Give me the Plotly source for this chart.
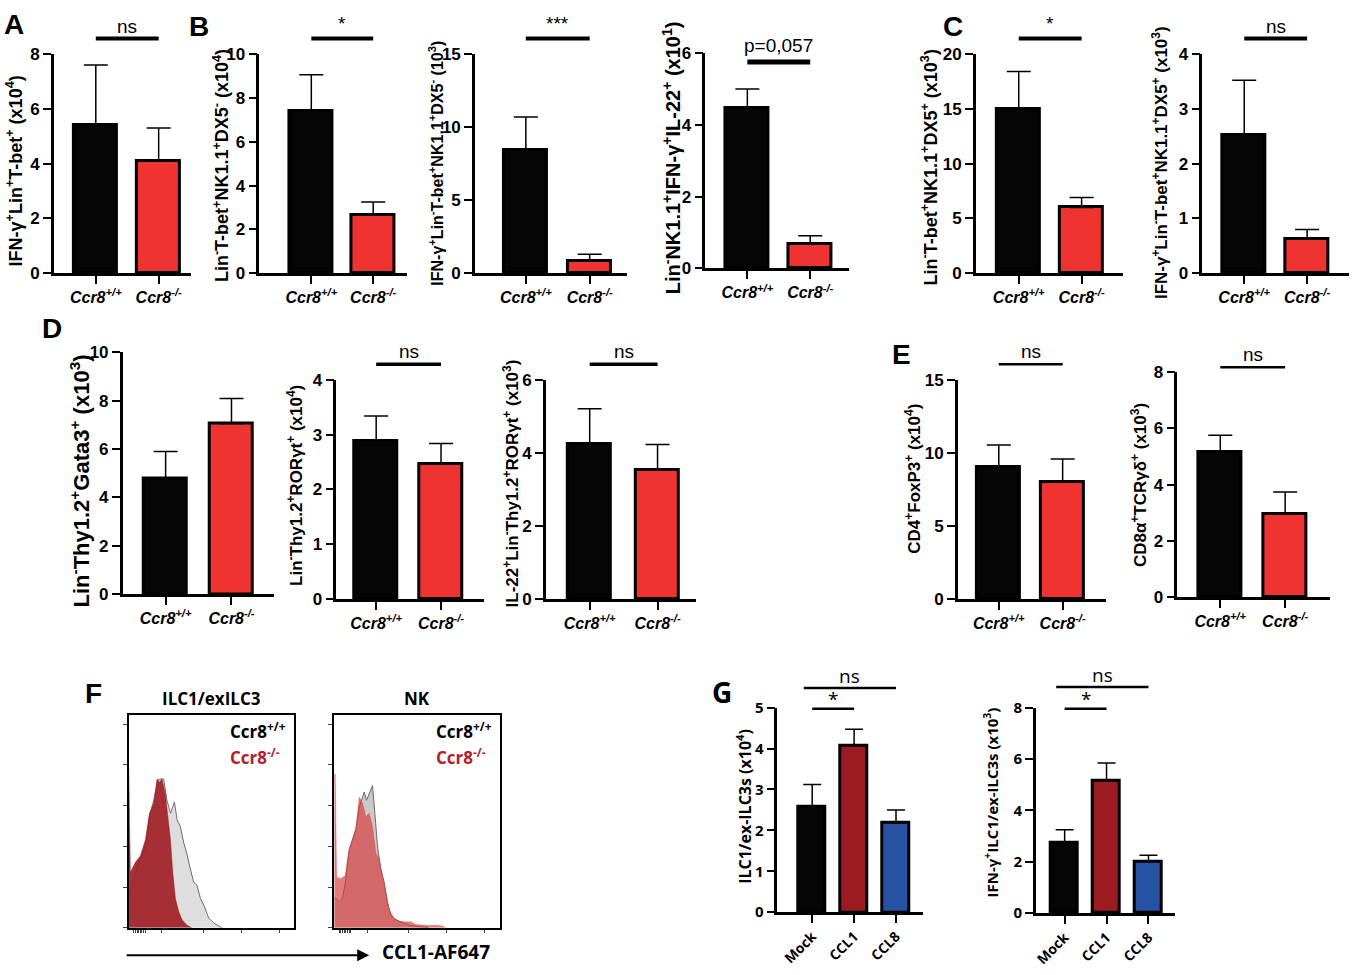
import plotly.graph_objects as go

W, H = 1353, 975

# ---------------- data ----------------
genotypes = ["Ccr8<sup>+/+</sup>", "Ccr8<sup>-/-</sup>"]
treatments = ["Mock", "CCL1", "CCL8"]

# panel A
a_mean = [5.4, 4.1]
a_sem = [2.2, 1.2]
# panel B
b1_mean = [7.4, 2.65]
b1_sem = [1.65, 0.6]
b2_mean = [8.45, 0.85]
b2_sem = [2.25, 0.45]
b3_mean = [4.47, 0.68]
b3_sem = [0.53, 0.23]
# panel C
c1_mean = [15.0, 6.0]
c1_sem = [3.4, 0.9]
c2_mean = [2.52, 0.62]
c2_sem = [1.0, 0.18]
# panel D
d1_mean = [4.8, 7.06]
d1_sem = [1.1, 1.04]
d2_mean = [2.88, 2.47]
d2_sem = [0.46, 0.37]
d3_mean = [4.24, 3.53]
d3_sem = [0.97, 0.70]
# panel E
e1_mean = [9.08, 8.01]
e1_sem = [1.46, 1.57]
e2_mean = [5.16, 2.96]
e2_sem = [0.59, 0.78]
# panel G
g1_mean = [2.58, 4.08, 2.18]
g1_sem = [0.54, 0.39, 0.32]
g2_mean = [2.76, 5.16, 2.01]
g2_sem = [0.49, 0.69, 0.24]

# panel F histograms (channel in % of axis, count in % of max)
f1_wt_x = [0, 1.0, 4.0, 7.0, 10.1, 12.5, 15.1, 17.5, 19.1, 21.1, 23.1, 25.2, 27.6, 29.2, 31.2,
           33.2, 35.2, 37.2, 39.2, 41.2, 43.3, 45.3, 48.3, 51.3, 54.3, 56.3]
f1_wt_y = [17, 16.9, 26.1, 32.2, 38.3, 52.1, 59.8, 69.0, 69.8, 69.8, 59.8, 53.7, 59.0, 50.6, 47.5,
           39.9, 34.5, 27.6, 21.5, 19.9, 13.8, 10.7, 4.6, 2.3, 0.8, 0]
f1_ko_x = [0, 0.4, 1.0, 4.0, 7.0, 10.1, 12.5, 15.1, 17.1, 18.5, 20.1, 22.1, 23.7, 25.2, 26.6,
           28.2, 30.2, 32.2, 35.2, 38.2]
f1_ko_y = [75.2, 40, 26.1, 30.7, 33.7, 41.4, 53.7, 58.3, 69.8, 68.3, 69.8, 62.9, 52.1, 41.4, 26.1,
           13.8, 7.7, 3.8, 1.2, 0]
f2_wt_x = [0, 1.0, 3.0, 5.0, 7.0, 9.0, 11.0, 13.1, 15.1, 17.1, 18.1, 19.5, 21.1, 23.1, 24.5, 26.1,
           28.1, 30.1, 32.1, 34.1, 37.1, 41.2, 45.2, 49.2, 53.2, 57.2]
f2_wt_y = [14, 13.8, 12.3, 13.8, 23.0, 36.8, 41.4, 46.0, 56.7, 61.3, 63.7, 59.8, 62.9, 66.7, 53.7, 38.3,
           27.6, 21.5, 12.3, 6.1, 3.8, 2.3, 1.2, 0.8, 0.3, 0]
f2_ko_x = [0, 0.6, 1.4, 4.0, 6.6, 8.6, 11.0, 13.1, 15.1, 17.1, 19.1, 21.1, 23.1, 25.1, 27.1, 29.1,
           31.1, 33.1, 36.1, 39.2, 43.2, 46.2, 49.2, 53.2, 57.2, 61.2, 65.3, 67.3]
f2_ko_y = [72.1, 72.1, 23.8, 23.0, 24.5, 35.3, 41.4, 47.5, 61.3, 58.3, 52.1, 53.7, 47.5, 35.3, 32.2, 24.5,
           16.9, 8.4, 4.6, 3.1, 2.8, 2.8, 1.5, 1.2, 1.1, 1.2, 0.8, 0]

BLACK = "#050505"
RED = "#ee3330"
DRED = "#9c1b21"
BLUE = "#2552a3"
ARIAL = "Liberation Sans, Arial, sans-serif"
GOTH = "Open Sans, sans-serif"


def px(x):
    return x / W


def py(y):
    return 1 - y / H


def b(t):
    return "<b>" + t + "</b>"


fig = go.Figure()
annotations = []
shapes = []
layout = {}


def bar_panel(i, means, sems, labels, colors, left, c0, step, right, top, bottom, ymax, dtick,
              title, tx, ty, tsize, bar_px=43, font=ARIAL, axis_w=2.5, tick_size=17,
              cat_size=16, cat_angle=0, cat_italic=True, cap=12):
    sfx = "" if i == 1 else str(i)
    n = len(means)
    fig.add_trace(go.Bar(
        x=list(range(n)), y=means, width=bar_px / step,
        marker=dict(color=colors, line=dict(color="black", width=3)),
        error_y=dict(type="data", symmetric=False, array=sems, arrayminus=[0] * n,
                     color="black", thickness=1.5, width=cap),
        xaxis="x" + sfx, yaxis="y" + sfx, showlegend=False,
    ))
    if cat_italic:
        cats = [b("<i>" + c + "</i>") for c in labels]
    else:
        cats = [b(c) for c in labels]
    yticks = []
    v = 0
    while v <= ymax + 1e-9:
        yticks.append(v)
        v += dtick
    layout["xaxis" + sfx] = dict(
        domain=[px(left), px(right)], anchor="y" + sfx,
        range=[(left - c0) / step, (right - c0) / step],
        tickvals=list(range(n)), ticktext=cats, tickangle=cat_angle,
        tickfont=dict(family=font, size=cat_size, color="black"),
        showline=True, linecolor="black", linewidth=axis_w,
        ticks="outside", ticklen=8, tickwidth=2, tickcolor="black",
        showgrid=False, zeroline=False, fixedrange=True,
    )
    layout["yaxis" + sfx] = dict(
        domain=[py(bottom), py(top)], anchor="x" + sfx,
        range=[0, ymax], tickvals=yticks, ticktext=[b(str(t)) for t in yticks],
        tickfont=dict(family=font, size=tick_size, color="black"),
        showline=True, linecolor="black", linewidth=axis_w,
        ticks="outside", ticklen=8, tickwidth=2, tickcolor="black",
        showgrid=False, zeroline=False, fixedrange=True,
    )
    annotations.append(dict(
        text=b(title), x=px(tx), y=py(ty), xref="paper", yref="paper", textangle=-90,
        showarrow=False, xanchor="center", yanchor="middle",
        font=dict(family=font, size=tsize, color="black"),
    ))


def sig(i, x0, x1, y, text, ty, lw=4, size=19, font=ARIAL):
    sfx = "" if i == 1 else str(i)
    shapes.append(dict(type="line", xref="x" + sfx, yref="paper", x0=x0, x1=x1,
                       y0=py(y), y1=py(y), line=dict(color="black", width=lw)))
    annotations.append(dict(text=text, xref="x" + sfx, yref="paper", x=(x0 + x1) / 2, y=py(ty),
                            showarrow=False, xanchor="center", yanchor="middle",
                            font=dict(family=font, size=size, color="black")))


def letter(t, x, y, font=ARIAL, size=28):
    annotations.append(dict(text=b(t), x=px(x), y=py(y), xref="paper", yref="paper",
                            showarrow=False, xanchor="center", yanchor="middle",
                            font=dict(family=font, size=size, color="black")))


two = [BLACK, RED]

# ---- row 1 ----
bar_panel(1, a_mean, a_sem, genotypes, two, 51, 93, 63, 188, 44, 268, 8, 2,
          "IFN-γ<sup>+</sup>Lin<sup>+</sup>T-bet<sup>+</sup> (x10<sup>4</sup>)", 12, 163, 18)
sig(1, 0, 1, 28, "ns", 16)
bar_panel(2, b1_mean, b1_sem, genotypes, two, 257, 309, 62, 405, 44, 268, 10, 2,
          "Lin<sup>-</sup>T-bet<sup>+</sup>NK1.1<sup>+</sup>DX5<sup>-</sup> (x10<sup>4</sup>)", 219, 158, 18)
sig(2, 0, 1, 28, "*", 13)
bar_panel(3, b2_mean, b2_sem, genotypes, two, 473, 524, 64, 625, 44, 268, 15, 5,
          "IFN-γ<sup>+</sup>Lin<sup>-</sup>T-bet<sup>+</sup>NK1.1<sup>+</sup>DX5<sup>-</sup> (10<sup>3</sup>)",
          434, 156, 16)
sig(3, 0, 1, 28, "***", 13)
bar_panel(4, b3_mean, b3_sem, genotypes, two, 704, 746, 63, 848, 43, 263, 6, 2,
          "Lin<sup>-</sup>NK1.1<sup>+</sup>IFN-γ<sup>+</sup>IL-22<sup>+</sup> (x10<sup>1</sup>)", 670, 150, 20)
sig(4, 0, 1, 52, "p=0,057", 35, lw=5)
bar_panel(5, c1_mean, c1_sem, genotypes, two, 975, 1018, 63, 1122, 44, 268, 20, 5,
          "Lin<sup>-</sup>T-bet<sup>+</sup>NK1.1<sup>+</sup>DX5<sup>+</sup> (x10<sup>3</sup>)", 929, 160, 18)
sig(5, 0, 1, 28, "*", 13)
bar_panel(6, c2_mean, c2_sem, genotypes, two, 1202, 1244, 63, 1349, 44, 268, 4, 1,
          "IFN-γ<sup>+</sup>Lin<sup>-</sup>T-bet<sup>+</sup>NK1.1<sup>+</sup>DX5<sup>+</sup> (x10<sup>3</sup>)",
          1159, 155, 17)
sig(6, 0, 1, 28, "ns", 16)

# ---- row 2 ----
bar_panel(7, d1_mean, d1_sem, genotypes, two, 120, 163, 66, 272, 349, 596, 10, 2,
          "Lin<sup>-</sup>Thy1.2<sup>+</sup>Gata3<sup>+</sup> (x10<sup>3</sup>)", 77, 480, 22)
bar_panel(8, d2_mean, d2_sem, genotypes, two, 334, 374, 65, 482, 377, 601, 4, 1,
          "Lin<sup>-</sup>Thy1.2<sup>+</sup>RORγt<sup>+</sup> (x10<sup>4</sup>)", 292, 485, 17)
sig(8, 0, 1, 361, "ns", 348, lw=3.5)
bar_panel(9, d3_mean, d3_sem, genotypes, two, 544, 588, 68, 695, 377, 601, 6, 2,
          "IL-22<sup>+</sup>Lin<sup>-</sup>Thy1.2<sup>+</sup>RORγt<sup>+</sup> (x10<sup>3</sup>)", 509, 483, 17)
sig(9, 0, 1, 361, "ns", 348, lw=3.5)
bar_panel(10, e1_mean, e1_sem, genotypes, two, 957, 998, 64, 1105, 377, 601, 15, 5,
          "CD4<sup>+</sup>FoxP3<sup>+</sup> (x10<sup>4</sup>)", 912, 478, 17)
sig(10, 0, 1, 361, "ns", 348, lw=2.5)
bar_panel(11, e2_mean, e2_sem, genotypes, two, 1177, 1220, 65, 1330, 369, 599, 8, 2,
          "CD8α<sup>+</sup>TCRγδ<sup>+</sup> (x10<sup>3</sup>)", 1138, 484, 17)
sig(11, 0, 1, 364, "ns", 351, lw=2.5)

# ---- row 3, panel G ----
three = [BLACK, DRED, BLUE]
bar_panel(12, g1_mean, g1_sem, treatments, three, 776, 811, 42, 922, 712, 921, 5, 1,
          "ILC1/ex-ILC3s (x10<sup>4</sup>)", 743, 813, 16, bar_px=27, font=GOTH, tick_size=15,
          cat_size=14, cat_angle=-45, cat_italic=False, cap=9)
sig(12, 0, 1, 713, "*", 703, lw=2.5, font=GOTH)
sig(12, -0.2, 2, 692, "ns", 680, lw=2.5, font=GOTH)
bar_panel(13, g2_mean, g2_sem, treatments, three, 1035, 1064, 42, 1175, 712, 922, 8, 2,
          "IFN-γ<sup>+</sup>ILC1/ex-ILC3s (x10<sup>3</sup>)", 990, 809, 15, bar_px=27, font=GOTH,
          tick_size=15, cat_size=14, cat_angle=-45, cat_italic=False, cap=9)
sig(13, 0, 1, 713, "*", 703, lw=2.5, font=GOTH)
sig(13, -0.2, 2, 691, "ns", 679, lw=2.5, font=GOTH)

# ---- row 3, panel F histograms ----
hists = [
    (14, f1_wt_x, f1_wt_y, f1_ko_x, f1_ko_y, 126, 292, "#dedede", "#6e6e6e", "rgba(160,32,38,0.92)",
     "ILC1/exILC3"),
    (15, f2_wt_x, f2_wt_y, f2_ko_x, f2_ko_y, 332, 498, "#c9c9c9", "#6a6a6a", "rgba(215,55,55,0.66)",
     "NK"),
]
for i, wx, wy, kx, ky, left, right, wfill, wline, kfill, name in hists:
    sfx = str(i)
    fig.add_trace(go.Scatter(x=wx, y=wy, mode="lines", fill="tozeroy", fillcolor=wfill,
                             line=dict(color=wline, width=1), xaxis="x" + sfx, yaxis="y" + sfx,
                             showlegend=False))
    fig.add_trace(go.Scatter(x=kx, y=ky, mode="lines", fill="tozeroy", fillcolor=kfill,
                             line=dict(color=kfill, width=0.5), xaxis="x" + sfx, yaxis="y" + sfx,
                             showlegend=False))
    layout["xaxis" + sfx] = dict(
        domain=[px(left), px(right)], anchor="y" + sfx, range=[0, 100],
        showline=True, mirror=True, linecolor="black", linewidth=2,
        tickvals=[3, 4, 5, 6, 7, 8, 9, 10, 20, 45, 68, 91], showticklabels=False,
        ticks="outside", ticklen=3, tickwidth=1, tickcolor="#444",
        showgrid=False, zeroline=False, fixedrange=True,
    )
    layout["yaxis" + sfx] = dict(
        domain=[py(937), py(719)], anchor="x" + sfx, range=[0, 100],
        showline=True, mirror=True, linecolor="black", linewidth=2,
        tick0=0, dtick=19.1, showticklabels=False,
        ticks="outside", ticklen=4, tickwidth=1, tickcolor="#444",
        showgrid=False, zeroline=False, fixedrange=True,
    )
    annotations.append(dict(text=b(name), x=px((left + right) / 2), y=py(703), xref="paper", yref="paper",
                            showarrow=False, xanchor="center", yanchor="middle",
                            font=dict(family=GOTH, size=17, color="black")))
    annotations.append(dict(text=b("Ccr8<sup>+/+</sup>"), x=px(left + 100), y=py(735), xref="paper",
                            yref="paper", showarrow=False, xanchor="left", yanchor="middle",
                            font=dict(family=GOTH, size=17, color="black")))
    annotations.append(dict(text=b("Ccr8<sup>-/-</sup>"), x=px(left + 100), y=py(762), xref="paper",
                            yref="paper", showarrow=False, xanchor="left", yanchor="middle",
                            font=dict(family=GOTH, size=17, color="#b3202b")))

annotations.append(dict(text="", x=px(367), y=py(965), xref="paper", yref="paper", ax=-244, ay=0,
                        showarrow=True, arrowhead=2, arrowsize=1.2, arrowwidth=2, arrowcolor="black"))
annotations.append(dict(text=b("CCL1-AF647"), x=px(378), y=py(962), xref="paper", yref="paper",
                        showarrow=False, xanchor="left", yanchor="middle",
                        font=dict(family=GOTH, size=19, color="black")))

letter("A", 11, 14)
letter("B", 196, 16)
letter("C", 952, 16)
letter("D", 49, 325)
letter("E", 900, 351)
letter("F", 91, 698)
letter("G", 721, 696, font=GOTH)

fig.update_layout(
    width=W, height=H,
    margin=dict(l=0, r=0, t=0, b=0),
    paper_bgcolor="white", plot_bgcolor="white",
    annotations=annotations, shapes=shapes,
    bargap=0,
    **layout,
)

# drop the page's default body margin so the figure sits at the window corner
fig.write_html("out.html", config={"displayModeBar": False},
               post_script="document.body.style.margin = '0';")
